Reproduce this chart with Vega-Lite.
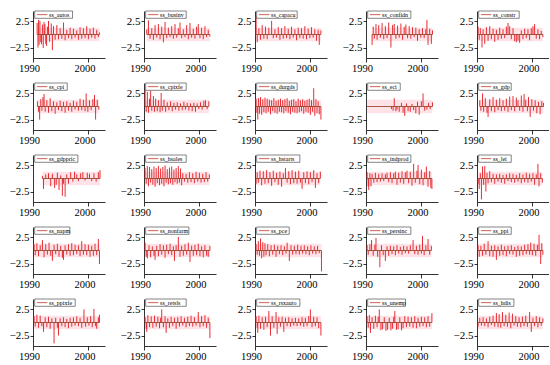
{
"$schema": "https://vega.github.io/schema/vega-lite/v6.json",
"config": {"view": {"stroke": null},
  "header": {"labels": false, "title": null, "labelFontSize": 0, "labelPadding": 0, "titlePadding": 0, "labelLimit": 1},
  "axis": {"labelFont": "Liberation Serif, DejaVu Serif, serif", "labelColor": "#000", "domainColor": "#000", "tickColor": "#000", "grid": false, "labelOverlap": false, "labelSeparation": -20, "labelFlush": false, "title": null}},
"padding": {"left": 9, "top": 10, "right": 0, "bottom": 0},
"background": "white",
"facet": {"field": "s", "type": "nominal", "title": null,
  "header": {"labels": false, "title": null, "labelFontSize": 0, "labelPadding": 0},
  "sort": ["ss_autos","ss_businv","ss_capacu","ss_confidn","ss_constr","ss_cpi","ss_cpixfe","ss_durgds","ss_eci","ss_gdp","ss_gdppric","ss_hsales","ss_hstarts","ss_indprod","ss_lei","ss_napm","ss_nonfarm","ss_pce","ss_persinc","ss_ppi","ss_ppixfe","ss_retsls","ss_rsxauto","ss_unemp","ss_hdis"]},
"columns": 5,
"spacing": {"column": 15, "row": 8},
"resolve": {"axis": {"x": "independent", "y": "independent"}},
"spec": {
  "width": 72,
  "height": 47,
  "layer": [
    {
      "transform": [
        {"aggregate": [{"op": "min", "field": "t", "as": "t0"}, {"op": "max", "field": "t", "as": "t1"}], "groupby": ["s"]},
        {"calculate": "-1.3", "as": "blo"},
        {"calculate": "1.3", "as": "bhi"}
      ],
      "mark": {"type": "rect", "color": "#fde3e7"},
      "encoding": {
        "x": {"field": "t0", "type": "quantitative", "title": null,
          "scale": {"domain": [1990, 2003], "nice": false, "zero": false},
          "axis": {"values": [1990, 1995, 2000], "format": "d",
            "labelFont": "Liberation Serif, DejaVu Serif, serif",
            "domainWidth": 0.8, "tickWidth": 0.8, "tickSize": 4,
            "labelFontSize": 10.5, "labelPadding": 1, "labelOverlap": false, "labelSeparation": -20, "labelBound": false, "labelOffset": -4, "title": null}},
        "x2": {"field": "t1"},
        "y": {"field": "blo", "type": "quantitative", "title": null,
          "scale": {"domain": [-4.5, 4.5], "nice": false, "zero": false},
          "axis": {"values": [-2.5, 2.5], "format": ".1f",
            "labelFont": "Liberation Serif, DejaVu Serif, serif",
            "domainWidth": 0.8, "tickWidth": 0.8, "tickSize": 3,
            "labelFontSize": 11, "labelPadding": 1, "title": null}},
        "y2": {"field": "bhi"}
      }
    },
    {
      "transform": [{"calculate": "0", "as": "zero"}],
      "mark": {"type": "rule", "color": "#e4161e", "strokeWidth": 0.9},
      "encoding": {
        "x": {"field": "t", "type": "quantitative", "title": null},
        "y": {"field": "v", "type": "quantitative", "title": null},
        "y2": {"field": "zero"}
      }
    },
    {
      "transform": [
        {"aggregate": [{"op": "min", "field": "t", "as": "t0"}, {"op": "max", "field": "t", "as": "t1"}], "groupby": ["s"]},
        {"calculate": "0", "as": "zero"}
      ],
      "mark": {"type": "rule", "color": "#8e3a16", "strokeWidth": 0.8},
      "encoding": {
        "x": {"field": "t0", "type": "quantitative", "title": null},
        "x2": {"field": "t1"},
        "y": {"field": "zero", "type": "quantitative", "title": null}
      }
    },
    {
      "transform": [
        {"aggregate": [{"op": "count", "as": "n"}], "groupby": ["s"]},
        {"calculate": "1990.3", "as": "lx0"},
        {"calculate": "1993.3 + length(datum.s) * 0.48", "as": "lx1"},
        {"calculate": "1990.7", "as": "sx0"},
        {"calculate": "1992.6", "as": "sx1"},
        {"calculate": "1992.9", "as": "tx"},
        {"calculate": "4.5", "as": "ly0"},
        {"calculate": "3.1", "as": "ly1"},
        {"calculate": "3.8", "as": "ty"}
      ],
      "layer": [
        {"mark": {"type": "rect", "fill": "white", "stroke": "#333", "strokeWidth": 0.6},
         "encoding": {"x": {"field": "lx0", "type": "quantitative", "title": null}, "x2": {"field": "lx1"},
           "y": {"field": "ly0", "type": "quantitative", "title": null}, "y2": {"field": "ly1"}}},
        {"mark": {"type": "rule", "color": "#c0392b", "strokeWidth": 0.8},
         "encoding": {"x": {"field": "sx0", "type": "quantitative", "title": null}, "x2": {"field": "sx1"},
           "y": {"field": "ty", "type": "quantitative", "title": null}}},
        {"mark": {"type": "text", "font": "Liberation Serif, DejaVu Serif, serif", "fontSize": 6, "align": "left", "baseline": "middle", "color": "#000"},
         "encoding": {"x": {"field": "tx", "type": "quantitative", "title": null}, "y": {"field": "ty", "type": "quantitative", "title": null},
           "text": {"field": "s", "type": "nominal"}}}
      ]
    }
  ]
},
"data": {"values": [
{"s":"ss_autos","t":1990.75,"v":2.2},{"s":"ss_autos","t":1990.9,"v":-2.5},{"s":"ss_autos","t":1991.0,"v":2.8},{"s":"ss_autos","t":1991.1,"v":-2.0},{"s":"ss_autos","t":1991.25,"v":2.6},{"s":"ss_autos","t":1991.4,"v":-1.5},{"s":"ss_autos","t":1991.55,"v":-1.9},{"s":"ss_autos","t":1991.7,"v":1.9},{"s":"ss_autos","t":1991.85,"v":-2.6},{"s":"ss_autos","t":1992.0,"v":2.4},{"s":"ss_autos","t":1992.15,"v":2.0},{"s":"ss_autos","t":1992.3,"v":-1.8},{"s":"ss_autos","t":1992.45,"v":-2.2},{"s":"ss_autos","t":1992.6,"v":1.5},{"s":"ss_autos","t":1992.8,"v":2.6},{"s":"ss_autos","t":1993.0,"v":-1.4},{"s":"ss_autos","t":1993.3,"v":2.1},{"s":"ss_autos","t":1993.5,"v":-3.0},{"s":"ss_autos","t":1993.7,"v":1.6},{"s":"ss_autos","t":1994.0,"v":-1.0},{"s":"ss_autos","t":1994.3,"v":1.8},{"s":"ss_autos","t":1994.6,"v":-0.9},{"s":"ss_autos","t":1994.9,"v":1.2},{"s":"ss_autos","t":1995.2,"v":-0.8},{"s":"ss_autos","t":1995.5,"v":2.3},{"s":"ss_autos","t":1995.8,"v":-1.1},{"s":"ss_autos","t":1996.1,"v":0.9},{"s":"ss_autos","t":1996.4,"v":-0.7},{"s":"ss_autos","t":1996.7,"v":1.3},{"s":"ss_autos","t":1997.0,"v":-0.9},{"s":"ss_autos","t":1997.3,"v":1.1},{"s":"ss_autos","t":1997.6,"v":-0.6},{"s":"ss_autos","t":1997.9,"v":0.8},{"s":"ss_autos","t":1998.2,"v":-1.0},{"s":"ss_autos","t":1998.5,"v":1.4},{"s":"ss_autos","t":1998.8,"v":-0.8},{"s":"ss_autos","t":1999.1,"v":1.2},{"s":"ss_autos","t":1999.4,"v":-0.7},{"s":"ss_autos","t":1999.7,"v":1.6},{"s":"ss_autos","t":2000.0,"v":-0.9},{"s":"ss_autos","t":2000.3,"v":1.1},{"s":"ss_autos","t":2000.6,"v":-0.6},{"s":"ss_autos","t":2000.9,"v":1.3},{"s":"ss_autos","t":2001.2,"v":-0.8},{"s":"ss_autos","t":2001.5,"v":0.9},{"s":"ss_autos","t":2001.8,"v":-0.5},{"s":"ss_autos","t":2002.0,"v":0.4},
{"s":"ss_businv","t":1990.5,"v":1.0},{"s":"ss_businv","t":1990.8,"v":2.7},{"s":"ss_businv","t":1991.1,"v":-0.8},{"s":"ss_businv","t":1991.4,"v":1.2},{"s":"ss_businv","t":1991.7,"v":-1.0},{"s":"ss_businv","t":1992.0,"v":1.8},{"s":"ss_businv","t":1992.3,"v":-0.6},{"s":"ss_businv","t":1992.6,"v":2.0},{"s":"ss_businv","t":1992.9,"v":-0.9},{"s":"ss_businv","t":1993.2,"v":1.5},{"s":"ss_businv","t":1993.5,"v":-1.5},{"s":"ss_businv","t":1993.8,"v":2.4},{"s":"ss_businv","t":1994.1,"v":-0.7},{"s":"ss_businv","t":1994.4,"v":1.3},{"s":"ss_businv","t":1994.7,"v":-0.5},{"s":"ss_businv","t":1995.0,"v":1.6},{"s":"ss_businv","t":1995.3,"v":-0.8},{"s":"ss_businv","t":1995.6,"v":2.0},{"s":"ss_businv","t":1995.9,"v":-0.6},{"s":"ss_businv","t":1996.2,"v":1.2},{"s":"ss_businv","t":1996.5,"v":2.3},{"s":"ss_businv","t":1996.8,"v":-0.7},{"s":"ss_businv","t":1997.1,"v":1.0},{"s":"ss_businv","t":1997.4,"v":-0.5},{"s":"ss_businv","t":1997.7,"v":1.8},{"s":"ss_businv","t":1998.0,"v":-0.9},{"s":"ss_businv","t":1998.3,"v":2.2},{"s":"ss_businv","t":1998.6,"v":-0.6},{"s":"ss_businv","t":1998.9,"v":1.1},{"s":"ss_businv","t":1999.2,"v":-0.8},{"s":"ss_businv","t":1999.5,"v":1.5},{"s":"ss_businv","t":1999.8,"v":2.0},{"s":"ss_businv","t":2000.1,"v":-0.7},{"s":"ss_businv","t":2000.4,"v":1.3},{"s":"ss_businv","t":2000.7,"v":-0.9},{"s":"ss_businv","t":2001.0,"v":1.6},{"s":"ss_businv","t":2001.3,"v":-0.5},{"s":"ss_businv","t":2001.6,"v":0.9},{"s":"ss_businv","t":2001.9,"v":-0.4},
{"s":"ss_capacu","t":1990.2,"v":3.5},{"s":"ss_capacu","t":1990.4,"v":-1.5},{"s":"ss_capacu","t":1990.7,"v":1.2},{"s":"ss_capacu","t":1991.0,"v":-1.0},{"s":"ss_capacu","t":1991.3,"v":1.8},{"s":"ss_capacu","t":1991.6,"v":-0.8},{"s":"ss_capacu","t":1991.9,"v":1.5},{"s":"ss_capacu","t":1992.2,"v":-0.9},{"s":"ss_capacu","t":1992.5,"v":1.3},{"s":"ss_capacu","t":1993.0,"v":2.6},{"s":"ss_capacu","t":1993.3,"v":-0.7},{"s":"ss_capacu","t":1993.6,"v":1.0},{"s":"ss_capacu","t":1993.9,"v":-0.6},{"s":"ss_capacu","t":1994.2,"v":1.4},{"s":"ss_capacu","t":1994.5,"v":-1.0},{"s":"ss_capacu","t":1994.8,"v":1.2},{"s":"ss_capacu","t":1995.1,"v":-0.8},{"s":"ss_capacu","t":1995.4,"v":1.6},{"s":"ss_capacu","t":1995.7,"v":-0.7},{"s":"ss_capacu","t":1996.0,"v":1.1},{"s":"ss_capacu","t":1996.3,"v":-0.9},{"s":"ss_capacu","t":1996.6,"v":1.5},{"s":"ss_capacu","t":1996.9,"v":-0.6},{"s":"ss_capacu","t":1997.2,"v":1.0},{"s":"ss_capacu","t":1997.5,"v":-1.1},{"s":"ss_capacu","t":1997.8,"v":1.3},{"s":"ss_capacu","t":1998.1,"v":-0.7},{"s":"ss_capacu","t":1998.4,"v":1.2},{"s":"ss_capacu","t":1998.7,"v":-0.8},{"s":"ss_capacu","t":1999.0,"v":1.6},{"s":"ss_capacu","t":1999.3,"v":-0.9},{"s":"ss_capacu","t":1999.6,"v":1.1},{"s":"ss_capacu","t":1999.9,"v":-0.7},{"s":"ss_capacu","t":2000.2,"v":1.4},{"s":"ss_capacu","t":2000.5,"v":-0.6},{"s":"ss_capacu","t":2000.8,"v":1.0},{"s":"ss_capacu","t":2001.1,"v":-1.2},{"s":"ss_capacu","t":2001.4,"v":0.9},{"s":"ss_capacu","t":2001.6,"v":-2.0},{"s":"ss_capacu","t":2001.9,"v":0.8},
{"s":"ss_confidn","t":1991.1,"v":-2.0},{"s":"ss_confidn","t":1991.3,"v":1.5},{"s":"ss_confidn","t":1991.5,"v":-0.8},{"s":"ss_confidn","t":1991.8,"v":2.0},{"s":"ss_confidn","t":1992.0,"v":-1.0},{"s":"ss_confidn","t":1992.3,"v":1.8},{"s":"ss_confidn","t":1992.6,"v":-0.6},{"s":"ss_confidn","t":1992.9,"v":2.2},{"s":"ss_confidn","t":1993.2,"v":-0.9},{"s":"ss_confidn","t":1993.5,"v":1.6},{"s":"ss_confidn","t":1993.8,"v":-0.7},{"s":"ss_confidn","t":1994.1,"v":2.3},{"s":"ss_confidn","t":1994.5,"v":-2.5},{"s":"ss_confidn","t":1994.8,"v":1.8},{"s":"ss_confidn","t":1995.1,"v":2.0},{"s":"ss_confidn","t":1995.4,"v":-0.8},{"s":"ss_confidn","t":1995.7,"v":1.7},{"s":"ss_confidn","t":1996.0,"v":-0.6},{"s":"ss_confidn","t":1996.3,"v":2.1},{"s":"ss_confidn","t":1996.6,"v":-1.0},{"s":"ss_confidn","t":1996.9,"v":1.5},{"s":"ss_confidn","t":1997.2,"v":1.9},{"s":"ss_confidn","t":1997.5,"v":-0.7},{"s":"ss_confidn","t":1997.8,"v":1.6},{"s":"ss_confidn","t":1998.1,"v":-0.8},{"s":"ss_confidn","t":1998.4,"v":1.4},{"s":"ss_confidn","t":1998.7,"v":-0.5},{"s":"ss_confidn","t":1999.0,"v":1.3},{"s":"ss_confidn","t":1999.3,"v":-1.2},{"s":"ss_confidn","t":1999.6,"v":1.0},{"s":"ss_confidn","t":1999.9,"v":-0.6},{"s":"ss_confidn","t":2000.2,"v":1.2},{"s":"ss_confidn","t":2000.5,"v":-0.7},{"s":"ss_confidn","t":2000.8,"v":1.0},{"s":"ss_confidn","t":2001.0,"v":2.8},{"s":"ss_confidn","t":2001.2,"v":-2.0},{"s":"ss_confidn","t":2001.5,"v":1.1},{"s":"ss_confidn","t":2001.8,"v":-1.8},{"s":"ss_confidn","t":2002.0,"v":0.8},
{"s":"ss_constr","t":1990.2,"v":1.5},{"s":"ss_constr","t":1990.4,"v":-1.0},{"s":"ss_constr","t":1990.6,"v":1.2},{"s":"ss_constr","t":1990.9,"v":-2.5},{"s":"ss_constr","t":1991.1,"v":1.0},{"s":"ss_constr","t":1991.4,"v":-1.8},{"s":"ss_constr","t":1991.7,"v":1.4},{"s":"ss_constr","t":1992.0,"v":-1.2},{"s":"ss_constr","t":1992.3,"v":1.6},{"s":"ss_constr","t":1992.6,"v":-0.9},{"s":"ss_constr","t":1992.9,"v":1.1},{"s":"ss_constr","t":1993.2,"v":-1.4},{"s":"ss_constr","t":1993.5,"v":0.9},{"s":"ss_constr","t":1993.8,"v":-1.0},{"s":"ss_constr","t":1994.1,"v":1.3},{"s":"ss_constr","t":1994.4,"v":-0.8},{"s":"ss_constr","t":1994.7,"v":1.0},{"s":"ss_constr","t":1995.0,"v":-0.7},{"s":"ss_constr","t":1995.3,"v":1.5},{"s":"ss_constr","t":1995.6,"v":2.2},{"s":"ss_constr","t":1995.9,"v":1.6},{"s":"ss_constr","t":1996.2,"v":-0.9},{"s":"ss_constr","t":1996.5,"v":1.2},{"s":"ss_constr","t":1996.8,"v":-1.3},{"s":"ss_constr","t":1997.1,"v":-1.5},{"s":"ss_constr","t":1997.4,"v":-1.2},{"s":"ss_constr","t":1997.7,"v":-1.6},{"s":"ss_constr","t":1998.0,"v":0.8},{"s":"ss_constr","t":1998.3,"v":-0.9},{"s":"ss_constr","t":1998.6,"v":1.1},{"s":"ss_constr","t":1998.9,"v":-0.7},{"s":"ss_constr","t":1999.2,"v":1.0},{"s":"ss_constr","t":1999.5,"v":-1.1},{"s":"ss_constr","t":1999.8,"v":1.2},{"s":"ss_constr","t":2000.1,"v":1.6},{"s":"ss_constr","t":2000.4,"v":2.0},{"s":"ss_constr","t":2000.7,"v":-0.8},{"s":"ss_constr","t":2001.0,"v":1.0},{"s":"ss_constr","t":2001.3,"v":-0.9},{"s":"ss_constr","t":2001.6,"v":0.7},{"s":"ss_constr","t":2001.9,"v":-0.5},
{"s":"ss_cpi","t":1990.8,"v":1.0},{"s":"ss_cpi","t":1991.0,"v":-1.0},{"s":"ss_cpi","t":1991.2,"v":-2.5},{"s":"ss_cpi","t":1991.4,"v":1.4},{"s":"ss_cpi","t":1991.6,"v":-0.8},{"s":"ss_cpi","t":1991.8,"v":1.8},{"s":"ss_cpi","t":1992.0,"v":2.4},{"s":"ss_cpi","t":1992.2,"v":-1.0},{"s":"ss_cpi","t":1992.5,"v":1.2},{"s":"ss_cpi","t":1992.8,"v":-1.2},{"s":"ss_cpi","t":1993.1,"v":1.6},{"s":"ss_cpi","t":1993.4,"v":-0.9},{"s":"ss_cpi","t":1993.7,"v":1.0},{"s":"ss_cpi","t":1994.0,"v":-1.4},{"s":"ss_cpi","t":1994.3,"v":0.8},{"s":"ss_cpi","t":1994.6,"v":-0.7},{"s":"ss_cpi","t":1994.9,"v":1.1},{"s":"ss_cpi","t":1995.2,"v":-0.9},{"s":"ss_cpi","t":1995.5,"v":0.9},{"s":"ss_cpi","t":1995.8,"v":-1.2},{"s":"ss_cpi","t":1996.1,"v":1.0},{"s":"ss_cpi","t":1996.4,"v":-0.8},{"s":"ss_cpi","t":1996.7,"v":0.7},{"s":"ss_cpi","t":1997.0,"v":-1.0},{"s":"ss_cpi","t":1997.3,"v":1.1},{"s":"ss_cpi","t":1997.6,"v":-0.6},{"s":"ss_cpi","t":1997.9,"v":0.9},{"s":"ss_cpi","t":1998.2,"v":-0.8},{"s":"ss_cpi","t":1998.5,"v":1.5},{"s":"ss_cpi","t":1998.8,"v":-0.7},{"s":"ss_cpi","t":1999.1,"v":1.3},{"s":"ss_cpi","t":1999.4,"v":-0.9},{"s":"ss_cpi","t":1999.6,"v":2.5},{"s":"ss_cpi","t":1999.9,"v":-1.0},{"s":"ss_cpi","t":2000.2,"v":1.2},{"s":"ss_cpi","t":2000.5,"v":-0.7},{"s":"ss_cpi","t":2000.8,"v":1.4},{"s":"ss_cpi","t":2001.1,"v":2.2},{"s":"ss_cpi","t":2001.3,"v":-2.5},{"s":"ss_cpi","t":2001.6,"v":1.3},{"s":"ss_cpi","t":2001.9,"v":-0.6},
{"s":"ss_cpixfe","t":1990.2,"v":3.2},{"s":"ss_cpixfe","t":1990.4,"v":-1.0},{"s":"ss_cpixfe","t":1990.6,"v":2.8},{"s":"ss_cpixfe","t":1990.8,"v":-1.2},{"s":"ss_cpixfe","t":1991.0,"v":1.5},{"s":"ss_cpixfe","t":1991.2,"v":3.0},{"s":"ss_cpixfe","t":1991.4,"v":-0.8},{"s":"ss_cpixfe","t":1991.7,"v":2.0},{"s":"ss_cpixfe","t":1991.9,"v":-1.0},{"s":"ss_cpixfe","t":1992.1,"v":1.5},{"s":"ss_cpixfe","t":1992.4,"v":-0.9},{"s":"ss_cpixfe","t":1992.6,"v":1.2},{"s":"ss_cpixfe","t":1992.9,"v":-1.1},{"s":"ss_cpixfe","t":1993.1,"v":2.6},{"s":"ss_cpixfe","t":1993.3,"v":-0.8},{"s":"ss_cpixfe","t":1993.6,"v":1.3},{"s":"ss_cpixfe","t":1993.9,"v":-1.0},{"s":"ss_cpixfe","t":1994.2,"v":0.8},{"s":"ss_cpixfe","t":1994.5,"v":-0.7},{"s":"ss_cpixfe","t":1994.8,"v":1.0},{"s":"ss_cpixfe","t":1995.1,"v":-0.9},{"s":"ss_cpixfe","t":1995.4,"v":0.7},{"s":"ss_cpixfe","t":1995.7,"v":-0.6},{"s":"ss_cpixfe","t":1996.0,"v":0.8},{"s":"ss_cpixfe","t":1996.3,"v":-0.8},{"s":"ss_cpixfe","t":1996.6,"v":0.6},{"s":"ss_cpixfe","t":1996.9,"v":-0.7},{"s":"ss_cpixfe","t":1997.2,"v":0.9},{"s":"ss_cpixfe","t":1997.5,"v":-0.6},{"s":"ss_cpixfe","t":1997.8,"v":0.7},{"s":"ss_cpixfe","t":1998.1,"v":-0.8},{"s":"ss_cpixfe","t":1998.4,"v":0.6},{"s":"ss_cpixfe","t":1998.7,"v":-0.9},{"s":"ss_cpixfe","t":1999.0,"v":0.7},{"s":"ss_cpixfe","t":1999.3,"v":-1.0},{"s":"ss_cpixfe","t":1999.6,"v":0.6},{"s":"ss_cpixfe","t":1999.9,"v":-0.5},{"s":"ss_cpixfe","t":2000.2,"v":0.8},{"s":"ss_cpixfe","t":2000.5,"v":-0.6},{"s":"ss_cpixfe","t":2000.8,"v":1.1},{"s":"ss_cpixfe","t":2001.1,"v":1.2},{"s":"ss_cpixfe","t":2001.4,"v":-0.5},{"s":"ss_cpixfe","t":2001.7,"v":1.0},
{"s":"ss_durgds","t":1990.2,"v":1.5},{"s":"ss_durgds","t":1990.35,"v":-1.2},{"s":"ss_durgds","t":1990.5,"v":-2.5},{"s":"ss_durgds","t":1990.65,"v":1.6},{"s":"ss_durgds","t":1990.8,"v":-1.4},{"s":"ss_durgds","t":1991.0,"v":1.8},{"s":"ss_durgds","t":1991.2,"v":-1.6},{"s":"ss_durgds","t":1991.4,"v":1.4},{"s":"ss_durgds","t":1991.6,"v":-1.1},{"s":"ss_durgds","t":1991.8,"v":1.7},{"s":"ss_durgds","t":1992.0,"v":-1.3},{"s":"ss_durgds","t":1992.2,"v":1.5},{"s":"ss_durgds","t":1992.4,"v":-1.0},{"s":"ss_durgds","t":1992.6,"v":1.3},{"s":"ss_durgds","t":1992.8,"v":-1.5},{"s":"ss_durgds","t":1993.0,"v":1.2},{"s":"ss_durgds","t":1993.2,"v":-0.9},{"s":"ss_durgds","t":1993.4,"v":1.6},{"s":"ss_durgds","t":1993.6,"v":-1.2},{"s":"ss_durgds","t":1993.8,"v":1.1},{"s":"ss_durgds","t":1994.0,"v":-1.4},{"s":"ss_durgds","t":1994.2,"v":1.3},{"s":"ss_durgds","t":1994.4,"v":-1.0},{"s":"ss_durgds","t":1994.6,"v":1.5},{"s":"ss_durgds","t":1994.8,"v":-1.1},{"s":"ss_durgds","t":1995.0,"v":1.2},{"s":"ss_durgds","t":1995.2,"v":-1.3},{"s":"ss_durgds","t":1995.4,"v":1.4},{"s":"ss_durgds","t":1995.6,"v":-0.9},{"s":"ss_durgds","t":1995.8,"v":1.6},{"s":"ss_durgds","t":1996.0,"v":-1.2},{"s":"ss_durgds","t":1996.2,"v":1.1},{"s":"ss_durgds","t":1996.4,"v":-1.5},{"s":"ss_durgds","t":1996.6,"v":1.3},{"s":"ss_durgds","t":1996.8,"v":-1.0},{"s":"ss_durgds","t":1997.0,"v":1.4},{"s":"ss_durgds","t":1997.2,"v":-1.2},{"s":"ss_durgds","t":1997.4,"v":1.0},{"s":"ss_durgds","t":1997.6,"v":-1.3},{"s":"ss_durgds","t":1997.8,"v":1.5},{"s":"ss_durgds","t":1998.0,"v":-1.1},{"s":"ss_durgds","t":1998.2,"v":1.2},{"s":"ss_durgds","t":1998.4,"v":-0.9},{"s":"ss_durgds","t":1998.6,"v":1.4},{"s":"ss_durgds","t":1998.8,"v":-1.4},{"s":"ss_durgds","t":1999.0,"v":1.1},{"s":"ss_durgds","t":1999.2,"v":-1.0},{"s":"ss_durgds","t":1999.4,"v":1.3},{"s":"ss_durgds","t":1999.6,"v":-1.2},{"s":"ss_durgds","t":1999.8,"v":1.5},{"s":"ss_durgds","t":2000.0,"v":-1.6},{"s":"ss_durgds","t":2000.2,"v":1.2},{"s":"ss_durgds","t":2000.4,"v":-1.0},{"s":"ss_durgds","t":2000.6,"v":3.5},{"s":"ss_durgds","t":2000.8,"v":-1.8},{"s":"ss_durgds","t":2001.0,"v":1.4},{"s":"ss_durgds","t":2001.2,"v":-1.3},{"s":"ss_durgds","t":2001.4,"v":1.0},{"s":"ss_durgds","t":2001.6,"v":-1.5},{"s":"ss_durgds","t":2001.9,"v":-2.5},
{"s":"ss_eci","t":1990.2,"v":0},{"s":"ss_eci","t":1994.6,"v":-0.5},{"s":"ss_eci","t":1994.9,"v":-0.8},{"s":"ss_eci","t":1995.1,"v":1.6},{"s":"ss_eci","t":1995.4,"v":-0.9},{"s":"ss_eci","t":1995.6,"v":-0.6},{"s":"ss_eci","t":1996.0,"v":-1.0},{"s":"ss_eci","t":1996.4,"v":0.7},{"s":"ss_eci","t":1996.7,"v":-1.2},{"s":"ss_eci","t":1997.0,"v":-1.8},{"s":"ss_eci","t":1997.3,"v":0.6},{"s":"ss_eci","t":1997.6,"v":-0.9},{"s":"ss_eci","t":1998.0,"v":-1.0},{"s":"ss_eci","t":1998.3,"v":0.5},{"s":"ss_eci","t":1998.6,"v":-0.7},{"s":"ss_eci","t":1999.0,"v":-1.3},{"s":"ss_eci","t":1999.3,"v":0.9},{"s":"ss_eci","t":1999.6,"v":-1.6},{"s":"ss_eci","t":2000.0,"v":1.0},{"s":"ss_eci","t":2000.3,"v":2.5},{"s":"ss_eci","t":2000.6,"v":-0.8},{"s":"ss_eci","t":2001.0,"v":-0.6},{"s":"ss_eci","t":2001.3,"v":0.7},{"s":"ss_eci","t":2001.6,"v":-0.5},{"s":"ss_eci","t":2002.0,"v":0.8},
{"s":"ss_gdp","t":1990.5,"v":1.2},{"s":"ss_gdp","t":1990.7,"v":-0.8},{"s":"ss_gdp","t":1991.0,"v":2.5},{"s":"ss_gdp","t":1991.2,"v":-1.0},{"s":"ss_gdp","t":1991.5,"v":1.6},{"s":"ss_gdp","t":1991.8,"v":-1.2},{"s":"ss_gdp","t":1992.0,"v":-2.0},{"s":"ss_gdp","t":1992.3,"v":1.4},{"s":"ss_gdp","t":1992.6,"v":-0.9},{"s":"ss_gdp","t":1992.9,"v":1.8},{"s":"ss_gdp","t":1993.2,"v":-1.1},{"s":"ss_gdp","t":1993.5,"v":1.3},{"s":"ss_gdp","t":1993.8,"v":-0.7},{"s":"ss_gdp","t":1994.1,"v":1.6},{"s":"ss_gdp","t":1994.4,"v":-0.9},{"s":"ss_gdp","t":1994.7,"v":1.2},{"s":"ss_gdp","t":1995.0,"v":-0.8},{"s":"ss_gdp","t":1995.3,"v":1.5},{"s":"ss_gdp","t":1995.6,"v":-1.0},{"s":"ss_gdp","t":1995.9,"v":1.9},{"s":"ss_gdp","t":1996.2,"v":-0.7},{"s":"ss_gdp","t":1996.5,"v":2.0},{"s":"ss_gdp","t":1996.8,"v":-0.9},{"s":"ss_gdp","t":1997.1,"v":1.7},{"s":"ss_gdp","t":1997.4,"v":1.2},{"s":"ss_gdp","t":1997.7,"v":-0.8},{"s":"ss_gdp","t":1998.0,"v":2.1},{"s":"ss_gdp","t":1998.3,"v":-1.0},{"s":"ss_gdp","t":1998.5,"v":2.4},{"s":"ss_gdp","t":1998.8,"v":1.3},{"s":"ss_gdp","t":1999.1,"v":-0.9},{"s":"ss_gdp","t":1999.3,"v":1.8},{"s":"ss_gdp","t":1999.6,"v":-2.0},{"s":"ss_gdp","t":1999.9,"v":1.4},{"s":"ss_gdp","t":2000.2,"v":-0.8},{"s":"ss_gdp","t":2000.5,"v":1.2},{"s":"ss_gdp","t":2000.8,"v":-1.3},{"s":"ss_gdp","t":2001.1,"v":0.9},{"s":"ss_gdp","t":2001.4,"v":-1.5},{"s":"ss_gdp","t":2001.7,"v":1.0},{"s":"ss_gdp","t":2002.0,"v":0.7},
{"s":"ss_gdppric","t":1991.7,"v":0.5},{"s":"ss_gdppric","t":1991.9,"v":-2.0},{"s":"ss_gdppric","t":1992.3,"v":0.8},{"s":"ss_gdppric","t":1992.8,"v":1.0},{"s":"ss_gdppric","t":1993.2,"v":-1.5},{"s":"ss_gdppric","t":1993.5,"v":0.9},{"s":"ss_gdppric","t":1993.9,"v":-1.8},{"s":"ss_gdppric","t":1994.2,"v":-1.2},{"s":"ss_gdppric","t":1994.4,"v":1.1},{"s":"ss_gdppric","t":1994.7,"v":-2.2},{"s":"ss_gdppric","t":1995.0,"v":0.6},{"s":"ss_gdppric","t":1995.3,"v":-3.3},{"s":"ss_gdppric","t":1995.5,"v":-1.0},{"s":"ss_gdppric","t":1995.8,"v":-3.5},{"s":"ss_gdppric","t":1996.1,"v":0.8},{"s":"ss_gdppric","t":1996.4,"v":-1.0},{"s":"ss_gdppric","t":1996.8,"v":1.2},{"s":"ss_gdppric","t":1997.2,"v":-0.6},{"s":"ss_gdppric","t":1997.5,"v":1.3},{"s":"ss_gdppric","t":1997.9,"v":0.8},{"s":"ss_gdppric","t":1998.2,"v":-0.5},{"s":"ss_gdppric","t":1998.6,"v":1.0},{"s":"ss_gdppric","t":1999.0,"v":1.2},{"s":"ss_gdppric","t":1999.4,"v":-0.4},{"s":"ss_gdppric","t":1999.8,"v":1.1},{"s":"ss_gdppric","t":2000.2,"v":0.9},{"s":"ss_gdppric","t":2000.6,"v":-0.5},{"s":"ss_gdppric","t":2001.0,"v":1.0},{"s":"ss_gdppric","t":2001.4,"v":-0.6},{"s":"ss_gdppric","t":2001.8,"v":1.2},{"s":"ss_gdppric","t":2002.1,"v":1.6},
{"s":"ss_hsales","t":1990.2,"v":2.0},{"s":"ss_hsales","t":1990.4,"v":-1.0},{"s":"ss_hsales","t":1990.6,"v":2.4},{"s":"ss_hsales","t":1990.8,"v":-1.5},{"s":"ss_hsales","t":1991.0,"v":2.2},{"s":"ss_hsales","t":1991.2,"v":-0.8},{"s":"ss_hsales","t":1991.4,"v":1.8},{"s":"ss_hsales","t":1991.6,"v":-1.2},{"s":"ss_hsales","t":1991.8,"v":2.3},{"s":"ss_hsales","t":1992.0,"v":-1.6},{"s":"ss_hsales","t":1992.2,"v":2.0},{"s":"ss_hsales","t":1992.4,"v":-0.9},{"s":"ss_hsales","t":1992.6,"v":2.4},{"s":"ss_hsales","t":1992.8,"v":-1.3},{"s":"ss_hsales","t":1993.0,"v":1.9},{"s":"ss_hsales","t":1993.2,"v":-1.0},{"s":"ss_hsales","t":1993.4,"v":2.2},{"s":"ss_hsales","t":1993.6,"v":-1.5},{"s":"ss_hsales","t":1993.8,"v":2.5},{"s":"ss_hsales","t":1994.0,"v":-0.8},{"s":"ss_hsales","t":1994.2,"v":1.8},{"s":"ss_hsales","t":1994.4,"v":-1.1},{"s":"ss_hsales","t":1994.6,"v":2.1},{"s":"ss_hsales","t":1994.8,"v":-0.9},{"s":"ss_hsales","t":1995.0,"v":2.3},{"s":"ss_hsales","t":1995.2,"v":-1.2},{"s":"ss_hsales","t":1995.4,"v":1.7},{"s":"ss_hsales","t":1995.6,"v":-0.7},{"s":"ss_hsales","t":1995.8,"v":2.0},{"s":"ss_hsales","t":1996.0,"v":-1.0},{"s":"ss_hsales","t":1996.2,"v":2.4},{"s":"ss_hsales","t":1996.4,"v":-0.8},{"s":"ss_hsales","t":1996.6,"v":1.9},{"s":"ss_hsales","t":1996.8,"v":-1.3},{"s":"ss_hsales","t":1997.0,"v":1.0},{"s":"ss_hsales","t":1997.3,"v":-0.6},{"s":"ss_hsales","t":1997.6,"v":0.9},{"s":"ss_hsales","t":1997.9,"v":-0.8},{"s":"ss_hsales","t":1998.2,"v":1.2},{"s":"ss_hsales","t":1998.5,"v":-0.7},{"s":"ss_hsales","t":1998.8,"v":1.0},{"s":"ss_hsales","t":1999.1,"v":-0.9},{"s":"ss_hsales","t":1999.4,"v":1.3},{"s":"ss_hsales","t":1999.7,"v":-0.6},{"s":"ss_hsales","t":2000.0,"v":1.1},{"s":"ss_hsales","t":2000.3,"v":-0.8},{"s":"ss_hsales","t":2000.6,"v":0.9},{"s":"ss_hsales","t":2000.9,"v":-0.7},{"s":"ss_hsales","t":2001.2,"v":1.2},{"s":"ss_hsales","t":2001.5,"v":-0.6},{"s":"ss_hsales","t":2001.8,"v":0.8},
{"s":"ss_hstarts","t":1990.2,"v":-1.0},{"s":"ss_hstarts","t":1990.4,"v":1.2},{"s":"ss_hstarts","t":1990.6,"v":-0.8},{"s":"ss_hstarts","t":1990.9,"v":1.5},{"s":"ss_hstarts","t":1991.2,"v":-1.3},{"s":"ss_hstarts","t":1991.5,"v":1.4},{"s":"ss_hstarts","t":1991.8,"v":-1.0},{"s":"ss_hstarts","t":1992.1,"v":1.6},{"s":"ss_hstarts","t":1992.4,"v":-0.9},{"s":"ss_hstarts","t":1992.7,"v":1.2},{"s":"ss_hstarts","t":1993.0,"v":-1.4},{"s":"ss_hstarts","t":1993.3,"v":1.5},{"s":"ss_hstarts","t":1993.6,"v":-0.7},{"s":"ss_hstarts","t":1993.9,"v":1.1},{"s":"ss_hstarts","t":1994.2,"v":-1.2},{"s":"ss_hstarts","t":1994.5,"v":1.3},{"s":"ss_hstarts","t":1994.8,"v":-1.6},{"s":"ss_hstarts","t":1995.1,"v":1.0},{"s":"ss_hstarts","t":1995.5,"v":2.0},{"s":"ss_hstarts","t":1995.8,"v":-0.8},{"s":"ss_hstarts","t":1996.1,"v":1.4},{"s":"ss_hstarts","t":1996.4,"v":-1.1},{"s":"ss_hstarts","t":1996.7,"v":1.6},{"s":"ss_hstarts","t":1997.0,"v":-0.9},{"s":"ss_hstarts","t":1997.3,"v":1.3},{"s":"ss_hstarts","t":1997.6,"v":-1.0},{"s":"ss_hstarts","t":1997.9,"v":1.5},{"s":"ss_hstarts","t":1998.2,"v":-0.8},{"s":"ss_hstarts","t":1998.5,"v":-2.0},{"s":"ss_hstarts","t":1998.8,"v":1.2},{"s":"ss_hstarts","t":1999.1,"v":-0.9},{"s":"ss_hstarts","t":1999.4,"v":1.4},{"s":"ss_hstarts","t":1999.7,"v":-1.1},{"s":"ss_hstarts","t":2000.0,"v":1.2},{"s":"ss_hstarts","t":2000.3,"v":-0.7},{"s":"ss_hstarts","t":2000.6,"v":1.6},{"s":"ss_hstarts","t":2000.9,"v":-1.8},{"s":"ss_hstarts","t":2001.2,"v":1.0},{"s":"ss_hstarts","t":2001.5,"v":-0.9},{"s":"ss_hstarts","t":2001.8,"v":1.3},
{"s":"ss_indprod","t":1990.2,"v":1.2},{"s":"ss_indprod","t":1990.4,"v":-1.5},{"s":"ss_indprod","t":1990.5,"v":-2.2},{"s":"ss_indprod","t":1990.7,"v":1.0},{"s":"ss_indprod","t":1990.9,"v":-1.5},{"s":"ss_indprod","t":1991.1,"v":0.9},{"s":"ss_indprod","t":1991.4,"v":-0.8},{"s":"ss_indprod","t":1991.7,"v":1.1},{"s":"ss_indprod","t":1992.0,"v":-0.7},{"s":"ss_indprod","t":1992.3,"v":0.9},{"s":"ss_indprod","t":1992.6,"v":-0.6},{"s":"ss_indprod","t":1992.9,"v":1.0},{"s":"ss_indprod","t":1993.2,"v":-0.5},{"s":"ss_indprod","t":1993.5,"v":0.8},{"s":"ss_indprod","t":1993.8,"v":1.1},{"s":"ss_indprod","t":1994.1,"v":-0.7},{"s":"ss_indprod","t":1994.4,"v":1.2},{"s":"ss_indprod","t":1994.7,"v":-0.9},{"s":"ss_indprod","t":1995.0,"v":1.0},{"s":"ss_indprod","t":1995.3,"v":1.3},{"s":"ss_indprod","t":1995.6,"v":-1.2},{"s":"ss_indprod","t":1995.9,"v":1.1},{"s":"ss_indprod","t":1996.2,"v":-0.8},{"s":"ss_indprod","t":1996.5,"v":1.4},{"s":"ss_indprod","t":1996.8,"v":-1.0},{"s":"ss_indprod","t":1997.1,"v":1.2},{"s":"ss_indprod","t":1997.4,"v":1.5},{"s":"ss_indprod","t":1997.7,"v":-0.9},{"s":"ss_indprod","t":1998.0,"v":1.3},{"s":"ss_indprod","t":1998.3,"v":-1.4},{"s":"ss_indprod","t":1998.6,"v":2.8},{"s":"ss_indprod","t":1998.9,"v":-0.8},{"s":"ss_indprod","t":1999.2,"v":1.5},{"s":"ss_indprod","t":1999.4,"v":2.6},{"s":"ss_indprod","t":1999.7,"v":-1.1},{"s":"ss_indprod","t":2000.0,"v":1.7},{"s":"ss_indprod","t":2000.3,"v":-1.3},{"s":"ss_indprod","t":2000.6,"v":1.2},{"s":"ss_indprod","t":2000.9,"v":2.3},{"s":"ss_indprod","t":2001.2,"v":-1.6},{"s":"ss_indprod","t":2001.5,"v":1.4},{"s":"ss_indprod","t":2001.7,"v":-1.8},{"s":"ss_indprod","t":2001.9,"v":-2.0},
{"s":"ss_lei","t":1990.2,"v":-1.0},{"s":"ss_lei","t":1990.4,"v":-2.0},{"s":"ss_lei","t":1990.6,"v":1.0},{"s":"ss_lei","t":1990.8,"v":-4.0},{"s":"ss_lei","t":1991.0,"v":2.3},{"s":"ss_lei","t":1991.2,"v":-1.2},{"s":"ss_lei","t":1991.4,"v":2.4},{"s":"ss_lei","t":1991.6,"v":-2.5},{"s":"ss_lei","t":1991.8,"v":1.1},{"s":"ss_lei","t":1992.0,"v":-0.9},{"s":"ss_lei","t":1992.3,"v":1.4},{"s":"ss_lei","t":1992.6,"v":-0.7},{"s":"ss_lei","t":1992.9,"v":0.9},{"s":"ss_lei","t":1993.2,"v":-1.0},{"s":"ss_lei","t":1993.5,"v":0.8},{"s":"ss_lei","t":1993.8,"v":-0.6},{"s":"ss_lei","t":1994.1,"v":0.9},{"s":"ss_lei","t":1994.4,"v":-0.8},{"s":"ss_lei","t":1994.7,"v":0.7},{"s":"ss_lei","t":1995.0,"v":-1.0},{"s":"ss_lei","t":1995.3,"v":0.8},{"s":"ss_lei","t":1995.6,"v":-0.5},{"s":"ss_lei","t":1995.9,"v":1.0},{"s":"ss_lei","t":1996.2,"v":-0.7},{"s":"ss_lei","t":1996.5,"v":0.9},{"s":"ss_lei","t":1996.8,"v":-0.8},{"s":"ss_lei","t":1997.1,"v":0.7},{"s":"ss_lei","t":1997.4,"v":-0.6},{"s":"ss_lei","t":1997.7,"v":1.0},{"s":"ss_lei","t":1998.0,"v":-0.9},{"s":"ss_lei","t":1998.3,"v":0.8},{"s":"ss_lei","t":1998.6,"v":-0.7},{"s":"ss_lei","t":1998.9,"v":1.1},{"s":"ss_lei","t":1999.2,"v":-0.8},{"s":"ss_lei","t":1999.5,"v":0.9},{"s":"ss_lei","t":1999.8,"v":-0.6},{"s":"ss_lei","t":2000.1,"v":1.0},{"s":"ss_lei","t":2000.4,"v":-1.2},{"s":"ss_lei","t":2000.7,"v":0.8},{"s":"ss_lei","t":2001.0,"v":2.8},{"s":"ss_lei","t":2001.2,"v":-1.5},{"s":"ss_lei","t":2001.5,"v":1.0},{"s":"ss_lei","t":2001.8,"v":-0.8},
{"s":"ss_napm","t":1990.2,"v":1.2},{"s":"ss_napm","t":1990.4,"v":-0.9},{"s":"ss_napm","t":1990.7,"v":1.4},{"s":"ss_napm","t":1991.0,"v":-1.1},{"s":"ss_napm","t":1991.3,"v":1.0},{"s":"ss_napm","t":1991.7,"v":2.0},{"s":"ss_napm","t":1992.0,"v":-1.3},{"s":"ss_napm","t":1992.3,"v":1.2},{"s":"ss_napm","t":1992.6,"v":-0.8},{"s":"ss_napm","t":1992.9,"v":1.5},{"s":"ss_napm","t":1993.2,"v":-1.0},{"s":"ss_napm","t":1993.5,"v":-2.0},{"s":"ss_napm","t":1993.8,"v":1.1},{"s":"ss_napm","t":1994.1,"v":-0.7},{"s":"ss_napm","t":1994.4,"v":1.3},{"s":"ss_napm","t":1994.7,"v":-1.2},{"s":"ss_napm","t":1995.0,"v":0.9},{"s":"ss_napm","t":1995.3,"v":-1.4},{"s":"ss_napm","t":1995.5,"v":-1.8},{"s":"ss_napm","t":1995.8,"v":1.0},{"s":"ss_napm","t":1996.1,"v":-0.8},{"s":"ss_napm","t":1996.4,"v":1.2},{"s":"ss_napm","t":1996.7,"v":-1.0},{"s":"ss_napm","t":1997.0,"v":1.4},{"s":"ss_napm","t":1997.3,"v":-0.9},{"s":"ss_napm","t":1997.6,"v":1.1},{"s":"ss_napm","t":1997.9,"v":-0.7},{"s":"ss_napm","t":1998.2,"v":1.0},{"s":"ss_napm","t":1998.5,"v":-1.1},{"s":"ss_napm","t":1998.8,"v":1.8},{"s":"ss_napm","t":1999.1,"v":-0.8},{"s":"ss_napm","t":1999.4,"v":1.2},{"s":"ss_napm","t":1999.7,"v":-0.9},{"s":"ss_napm","t":2000.0,"v":1.1},{"s":"ss_napm","t":2000.3,"v":-1.2},{"s":"ss_napm","t":2000.6,"v":0.9},{"s":"ss_napm","t":2000.9,"v":-1.0},{"s":"ss_napm","t":2001.2,"v":1.3},{"s":"ss_napm","t":2001.5,"v":-0.9},{"s":"ss_napm","t":2001.8,"v":2.2},{"s":"ss_napm","t":2002.0,"v":-2.6},
{"s":"ss_nonfarm","t":1990.2,"v":1.5},{"s":"ss_nonfarm","t":1990.4,"v":-1.2},{"s":"ss_nonfarm","t":1990.6,"v":-1.5},{"s":"ss_nonfarm","t":1990.9,"v":1.0},{"s":"ss_nonfarm","t":1991.2,"v":-1.3},{"s":"ss_nonfarm","t":1991.5,"v":0.8},{"s":"ss_nonfarm","t":1991.8,"v":-1.0},{"s":"ss_nonfarm","t":1992.0,"v":-1.8},{"s":"ss_nonfarm","t":1992.3,"v":0.9},{"s":"ss_nonfarm","t":1992.6,"v":-1.1},{"s":"ss_nonfarm","t":1992.9,"v":1.2},{"s":"ss_nonfarm","t":1993.2,"v":-0.8},{"s":"ss_nonfarm","t":1993.5,"v":1.0},{"s":"ss_nonfarm","t":1993.8,"v":-1.4},{"s":"ss_nonfarm","t":1994.1,"v":1.1},{"s":"ss_nonfarm","t":1994.4,"v":-0.7},{"s":"ss_nonfarm","t":1994.7,"v":1.3},{"s":"ss_nonfarm","t":1995.0,"v":-0.9},{"s":"ss_nonfarm","t":1995.3,"v":0.8},{"s":"ss_nonfarm","t":1995.5,"v":-2.0},{"s":"ss_nonfarm","t":1995.8,"v":1.0},{"s":"ss_nonfarm","t":1996.2,"v":2.6},{"s":"ss_nonfarm","t":1996.5,"v":-1.2},{"s":"ss_nonfarm","t":1996.8,"v":0.9},{"s":"ss_nonfarm","t":1997.1,"v":-1.0},{"s":"ss_nonfarm","t":1997.4,"v":1.2},{"s":"ss_nonfarm","t":1997.7,"v":-0.8},{"s":"ss_nonfarm","t":1998.0,"v":1.5},{"s":"ss_nonfarm","t":1998.3,"v":-2.2},{"s":"ss_nonfarm","t":1998.6,"v":0.9},{"s":"ss_nonfarm","t":1998.9,"v":-1.0},{"s":"ss_nonfarm","t":1999.2,"v":1.1},{"s":"ss_nonfarm","t":1999.5,"v":-0.9},{"s":"ss_nonfarm","t":1999.8,"v":1.3},{"s":"ss_nonfarm","t":2000.1,"v":-1.1},{"s":"ss_nonfarm","t":2000.4,"v":0.8},{"s":"ss_nonfarm","t":2000.7,"v":-1.3},{"s":"ss_nonfarm","t":2001.0,"v":1.0},{"s":"ss_nonfarm","t":2001.3,"v":-1.0},{"s":"ss_nonfarm","t":2001.6,"v":-1.2},{"s":"ss_nonfarm","t":2001.9,"v":0.9},
{"s":"ss_pce","t":1990.2,"v":1.2},{"s":"ss_pce","t":1990.4,"v":-0.8},{"s":"ss_pce","t":1990.6,"v":1.8},{"s":"ss_pce","t":1990.8,"v":-1.0},{"s":"ss_pce","t":1991.0,"v":2.3},{"s":"ss_pce","t":1991.2,"v":-1.5},{"s":"ss_pce","t":1991.4,"v":1.6},{"s":"ss_pce","t":1991.6,"v":-1.2},{"s":"ss_pce","t":1991.8,"v":1.4},{"s":"ss_pce","t":1992.0,"v":-0.9},{"s":"ss_pce","t":1992.3,"v":1.2},{"s":"ss_pce","t":1992.6,"v":-1.1},{"s":"ss_pce","t":1992.9,"v":1.0},{"s":"ss_pce","t":1993.2,"v":-0.8},{"s":"ss_pce","t":1993.5,"v":1.1},{"s":"ss_pce","t":1993.8,"v":-1.2},{"s":"ss_pce","t":1994.1,"v":0.9},{"s":"ss_pce","t":1994.4,"v":-0.7},{"s":"ss_pce","t":1994.7,"v":1.0},{"s":"ss_pce","t":1995.0,"v":-0.9},{"s":"ss_pce","t":1995.3,"v":0.8},{"s":"ss_pce","t":1995.6,"v":-0.6},{"s":"ss_pce","t":1995.8,"v":1.5},{"s":"ss_pce","t":1996.2,"v":-2.0},{"s":"ss_pce","t":1996.5,"v":1.0},{"s":"ss_pce","t":1996.8,"v":-0.8},{"s":"ss_pce","t":1997.1,"v":0.9},{"s":"ss_pce","t":1997.4,"v":-0.7},{"s":"ss_pce","t":1997.7,"v":1.1},{"s":"ss_pce","t":1998.0,"v":-0.8},{"s":"ss_pce","t":1998.3,"v":0.9},{"s":"ss_pce","t":1998.6,"v":-0.6},{"s":"ss_pce","t":1998.9,"v":1.0},{"s":"ss_pce","t":1999.2,"v":-0.7},{"s":"ss_pce","t":1999.5,"v":0.8},{"s":"ss_pce","t":1999.8,"v":-0.9},{"s":"ss_pce","t":2000.1,"v":1.0},{"s":"ss_pce","t":2000.4,"v":-0.6},{"s":"ss_pce","t":2000.7,"v":0.8},{"s":"ss_pce","t":2001.0,"v":-0.7},{"s":"ss_pce","t":2001.3,"v":0.9},{"s":"ss_pce","t":2001.6,"v":-0.5},{"s":"ss_pce","t":2002.0,"v":-4.0},
{"s":"ss_persinc","t":1990.2,"v":1.0},{"s":"ss_persinc","t":1990.4,"v":-0.8},{"s":"ss_persinc","t":1990.7,"v":1.2},{"s":"ss_persinc","t":1991.0,"v":2.0},{"s":"ss_persinc","t":1991.3,"v":-1.0},{"s":"ss_persinc","t":1991.6,"v":1.1},{"s":"ss_persinc","t":1991.8,"v":2.4},{"s":"ss_persinc","t":1992.1,"v":-1.2},{"s":"ss_persinc","t":1992.5,"v":-3.2},{"s":"ss_persinc","t":1992.8,"v":1.0},{"s":"ss_persinc","t":1993.1,"v":-0.9},{"s":"ss_persinc","t":1993.5,"v":-2.0},{"s":"ss_persinc","t":1993.8,"v":0.8},{"s":"ss_persinc","t":1994.1,"v":-1.0},{"s":"ss_persinc","t":1994.4,"v":0.9},{"s":"ss_persinc","t":1994.7,"v":-0.7},{"s":"ss_persinc","t":1995.0,"v":0.8},{"s":"ss_persinc","t":1995.3,"v":-0.9},{"s":"ss_persinc","t":1995.6,"v":1.0},{"s":"ss_persinc","t":1995.9,"v":-0.6},{"s":"ss_persinc","t":1996.2,"v":0.7},{"s":"ss_persinc","t":1996.5,"v":-0.8},{"s":"ss_persinc","t":1996.8,"v":0.9},{"s":"ss_persinc","t":1997.1,"v":-0.5},{"s":"ss_persinc","t":1997.4,"v":0.8},{"s":"ss_persinc","t":1997.7,"v":-0.6},{"s":"ss_persinc","t":1998.0,"v":1.0},{"s":"ss_persinc","t":1998.5,"v":2.0},{"s":"ss_persinc","t":1998.8,"v":-0.7},{"s":"ss_persinc","t":1999.1,"v":0.9},{"s":"ss_persinc","t":1999.4,"v":-0.8},{"s":"ss_persinc","t":1999.7,"v":1.1},{"s":"ss_persinc","t":2000.0,"v":-0.6},{"s":"ss_persinc","t":2000.2,"v":2.8},{"s":"ss_persinc","t":2000.5,"v":-0.9},{"s":"ss_persinc","t":2000.8,"v":1.0},{"s":"ss_persinc","t":2001.2,"v":2.2},{"s":"ss_persinc","t":2001.5,"v":-0.8},{"s":"ss_persinc","t":2001.8,"v":0.9},
{"s":"ss_ppi","t":1990.2,"v":1.0},{"s":"ss_ppi","t":1990.4,"v":-1.2},{"s":"ss_ppi","t":1990.7,"v":0.9},{"s":"ss_ppi","t":1991.0,"v":-1.0},{"s":"ss_ppi","t":1991.3,"v":1.3},{"s":"ss_ppi","t":1991.6,"v":-0.8},{"s":"ss_ppi","t":1992.0,"v":1.8},{"s":"ss_ppi","t":1992.3,"v":-1.1},{"s":"ss_ppi","t":1992.6,"v":0.9},{"s":"ss_ppi","t":1992.9,"v":-1.2},{"s":"ss_ppi","t":1993.2,"v":1.0},{"s":"ss_ppi","t":1993.5,"v":-1.8},{"s":"ss_ppi","t":1993.8,"v":0.8},{"s":"ss_ppi","t":1994.1,"v":-1.0},{"s":"ss_ppi","t":1994.4,"v":1.1},{"s":"ss_ppi","t":1994.7,"v":-0.9},{"s":"ss_ppi","t":1995.0,"v":0.8},{"s":"ss_ppi","t":1995.3,"v":-1.1},{"s":"ss_ppi","t":1995.6,"v":0.9},{"s":"ss_ppi","t":1995.9,"v":-0.7},{"s":"ss_ppi","t":1996.2,"v":1.0},{"s":"ss_ppi","t":1996.5,"v":-0.8},{"s":"ss_ppi","t":1996.8,"v":0.7},{"s":"ss_ppi","t":1997.1,"v":-1.2},{"s":"ss_ppi","t":1997.4,"v":0.9},{"s":"ss_ppi","t":1997.7,"v":-1.0},{"s":"ss_ppi","t":1998.0,"v":0.8},{"s":"ss_ppi","t":1998.3,"v":-0.9},{"s":"ss_ppi","t":1998.6,"v":1.1},{"s":"ss_ppi","t":1998.9,"v":-0.7},{"s":"ss_ppi","t":1999.2,"v":1.2},{"s":"ss_ppi","t":1999.5,"v":-0.8},{"s":"ss_ppi","t":1999.7,"v":1.5},{"s":"ss_ppi","t":2000.0,"v":-0.9},{"s":"ss_ppi","t":2000.3,"v":1.3},{"s":"ss_ppi","t":2000.6,"v":-1.0},{"s":"ss_ppi","t":2000.9,"v":1.1},{"s":"ss_ppi","t":2001.2,"v":3.0},{"s":"ss_ppi","t":2001.5,"v":-2.6},{"s":"ss_ppi","t":2001.7,"v":1.4},{"s":"ss_ppi","t":2001.9,"v":-0.8},
{"s":"ss_ppixfe","t":1990.2,"v":1.2},{"s":"ss_ppixfe","t":1990.4,"v":-0.8},{"s":"ss_ppixfe","t":1990.7,"v":1.5},{"s":"ss_ppixfe","t":1991.0,"v":-1.0},{"s":"ss_ppixfe","t":1991.3,"v":1.3},{"s":"ss_ppixfe","t":1991.6,"v":-0.7},{"s":"ss_ppixfe","t":1991.9,"v":-1.8},{"s":"ss_ppixfe","t":1992.2,"v":1.0},{"s":"ss_ppixfe","t":1992.5,"v":-0.9},{"s":"ss_ppixfe","t":1992.8,"v":1.1},{"s":"ss_ppixfe","t":1993.1,"v":-1.2},{"s":"ss_ppixfe","t":1993.4,"v":0.8},{"s":"ss_ppixfe","t":1993.8,"v":-4.0},{"s":"ss_ppixfe","t":1994.1,"v":0.9},{"s":"ss_ppixfe","t":1994.4,"v":-1.0},{"s":"ss_ppixfe","t":1994.6,"v":-2.5},{"s":"ss_ppixfe","t":1994.9,"v":0.8},{"s":"ss_ppixfe","t":1995.2,"v":-0.7},{"s":"ss_ppixfe","t":1995.5,"v":1.0},{"s":"ss_ppixfe","t":1995.8,"v":-0.9},{"s":"ss_ppixfe","t":1996.1,"v":0.7},{"s":"ss_ppixfe","t":1996.4,"v":-1.1},{"s":"ss_ppixfe","t":1996.7,"v":0.9},{"s":"ss_ppixfe","t":1997.0,"v":-0.8},{"s":"ss_ppixfe","t":1997.3,"v":1.0},{"s":"ss_ppixfe","t":1997.6,"v":-0.6},{"s":"ss_ppixfe","t":1997.9,"v":1.2},{"s":"ss_ppixfe","t":1998.2,"v":-0.7},{"s":"ss_ppixfe","t":1998.5,"v":0.9},{"s":"ss_ppixfe","t":1998.8,"v":-1.0},{"s":"ss_ppixfe","t":1999.2,"v":2.5},{"s":"ss_ppixfe","t":1999.5,"v":-0.8},{"s":"ss_ppixfe","t":1999.8,"v":1.0},{"s":"ss_ppixfe","t":2000.1,"v":-0.6},{"s":"ss_ppixfe","t":2000.4,"v":1.2},{"s":"ss_ppixfe","t":2000.7,"v":-0.9},{"s":"ss_ppixfe","t":2001.0,"v":2.6},{"s":"ss_ppixfe","t":2001.3,"v":-0.7},{"s":"ss_ppixfe","t":2001.5,"v":-1.2},{"s":"ss_ppixfe","t":2001.8,"v":1.0},{"s":"ss_ppixfe","t":2002.0,"v":1.5},
{"s":"ss_retsls","t":1990.2,"v":1.0},{"s":"ss_retsls","t":1990.4,"v":-1.2},{"s":"ss_retsls","t":1990.5,"v":-1.8},{"s":"ss_retsls","t":1990.7,"v":1.4},{"s":"ss_retsls","t":1991.0,"v":-0.9},{"s":"ss_retsls","t":1991.3,"v":1.2},{"s":"ss_retsls","t":1991.6,"v":-1.0},{"s":"ss_retsls","t":1991.9,"v":1.3},{"s":"ss_retsls","t":1992.2,"v":-0.8},{"s":"ss_retsls","t":1992.5,"v":1.1},{"s":"ss_retsls","t":1992.8,"v":-1.1},{"s":"ss_retsls","t":1993.0,"v":0.9},{"s":"ss_retsls","t":1993.2,"v":2.5},{"s":"ss_retsls","t":1993.5,"v":-0.9},{"s":"ss_retsls","t":1993.8,"v":1.2},{"s":"ss_retsls","t":1994.0,"v":-2.0},{"s":"ss_retsls","t":1994.3,"v":0.8},{"s":"ss_retsls","t":1994.6,"v":-1.0},{"s":"ss_retsls","t":1994.9,"v":1.1},{"s":"ss_retsls","t":1995.2,"v":-0.7},{"s":"ss_retsls","t":1995.5,"v":0.9},{"s":"ss_retsls","t":1995.8,"v":-1.2},{"s":"ss_retsls","t":1996.1,"v":1.0},{"s":"ss_retsls","t":1996.4,"v":-0.8},{"s":"ss_retsls","t":1996.7,"v":1.2},{"s":"ss_retsls","t":1997.0,"v":-0.6},{"s":"ss_retsls","t":1997.3,"v":0.9},{"s":"ss_retsls","t":1997.6,"v":-0.9},{"s":"ss_retsls","t":1997.9,"v":1.1},{"s":"ss_retsls","t":1998.2,"v":-0.7},{"s":"ss_retsls","t":1998.5,"v":1.3},{"s":"ss_retsls","t":1998.8,"v":-0.8},{"s":"ss_retsls","t":1999.1,"v":1.0},{"s":"ss_retsls","t":1999.4,"v":-0.6},{"s":"ss_retsls","t":1999.8,"v":2.0},{"s":"ss_retsls","t":2000.1,"v":-0.9},{"s":"ss_retsls","t":2000.4,"v":1.2},{"s":"ss_retsls","t":2000.7,"v":-0.7},{"s":"ss_retsls","t":2001.0,"v":1.4},{"s":"ss_retsls","t":2001.3,"v":-1.0},{"s":"ss_retsls","t":2001.6,"v":0.9},{"s":"ss_retsls","t":2001.9,"v":-3.0},
{"s":"ss_rsxauto","t":1990.2,"v":1.2},{"s":"ss_rsxauto","t":1990.4,"v":-1.0},{"s":"ss_rsxauto","t":1990.5,"v":-2.0},{"s":"ss_rsxauto","t":1990.7,"v":1.3},{"s":"ss_rsxauto","t":1991.0,"v":-1.2},{"s":"ss_rsxauto","t":1991.3,"v":1.0},{"s":"ss_rsxauto","t":1991.6,"v":-1.4},{"s":"ss_rsxauto","t":1991.9,"v":1.1},{"s":"ss_rsxauto","t":1992.2,"v":-0.9},{"s":"ss_rsxauto","t":1992.5,"v":2.2},{"s":"ss_rsxauto","t":1992.8,"v":-2.5},{"s":"ss_rsxauto","t":1993.1,"v":1.2},{"s":"ss_rsxauto","t":1993.4,"v":-1.0},{"s":"ss_rsxauto","t":1993.8,"v":2.0},{"s":"ss_rsxauto","t":1994.0,"v":-2.2},{"s":"ss_rsxauto","t":1994.3,"v":1.0},{"s":"ss_rsxauto","t":1994.6,"v":-0.8},{"s":"ss_rsxauto","t":1994.9,"v":1.1},{"s":"ss_rsxauto","t":1995.2,"v":-1.8},{"s":"ss_rsxauto","t":1995.5,"v":0.9},{"s":"ss_rsxauto","t":1995.8,"v":-0.7},{"s":"ss_rsxauto","t":1996.1,"v":1.0},{"s":"ss_rsxauto","t":1996.4,"v":-0.8},{"s":"ss_rsxauto","t":1996.7,"v":0.8},{"s":"ss_rsxauto","t":1997.0,"v":-0.6},{"s":"ss_rsxauto","t":1997.3,"v":0.9},{"s":"ss_rsxauto","t":1997.6,"v":-0.7},{"s":"ss_rsxauto","t":1997.9,"v":0.8},{"s":"ss_rsxauto","t":1998.2,"v":-0.6},{"s":"ss_rsxauto","t":1998.5,"v":1.0},{"s":"ss_rsxauto","t":1998.8,"v":-0.8},{"s":"ss_rsxauto","t":1999.1,"v":0.9},{"s":"ss_rsxauto","t":1999.4,"v":-0.7},{"s":"ss_rsxauto","t":1999.7,"v":1.2},{"s":"ss_rsxauto","t":2000.0,"v":2.5},{"s":"ss_rsxauto","t":2000.3,"v":-0.9},{"s":"ss_rsxauto","t":2000.6,"v":1.1},{"s":"ss_rsxauto","t":2000.9,"v":-0.7},{"s":"ss_rsxauto","t":2001.2,"v":1.0},{"s":"ss_rsxauto","t":2001.5,"v":-1.1},{"s":"ss_rsxauto","t":2001.9,"v":-2.5},
{"s":"ss_unemp","t":1990.2,"v":1.2},{"s":"ss_unemp","t":1990.4,"v":-1.0},{"s":"ss_unemp","t":1990.6,"v":1.4},{"s":"ss_unemp","t":1990.8,"v":-2.0},{"s":"ss_unemp","t":1991.1,"v":1.0},{"s":"ss_unemp","t":1991.4,"v":-1.2},{"s":"ss_unemp","t":1991.7,"v":1.3},{"s":"ss_unemp","t":1992.0,"v":-0.9},{"s":"ss_unemp","t":1992.2,"v":1.1},{"s":"ss_unemp","t":1992.4,"v":2.5},{"s":"ss_unemp","t":1992.7,"v":-1.5},{"s":"ss_unemp","t":1993.0,"v":-1.3},{"s":"ss_unemp","t":1993.3,"v":1.0},{"s":"ss_unemp","t":1993.6,"v":-1.6},{"s":"ss_unemp","t":1993.9,"v":-1.4},{"s":"ss_unemp","t":1994.2,"v":0.9},{"s":"ss_unemp","t":1994.5,"v":-1.5},{"s":"ss_unemp","t":1994.8,"v":-1.2},{"s":"ss_unemp","t":1995.0,"v":1.1},{"s":"ss_unemp","t":1995.2,"v":2.2},{"s":"ss_unemp","t":1995.5,"v":-1.4},{"s":"ss_unemp","t":1995.8,"v":-1.3},{"s":"ss_unemp","t":1996.1,"v":1.0},{"s":"ss_unemp","t":1996.4,"v":-1.5},{"s":"ss_unemp","t":1996.7,"v":-1.1},{"s":"ss_unemp","t":1997.0,"v":1.2},{"s":"ss_unemp","t":1997.3,"v":-0.9},{"s":"ss_unemp","t":1997.6,"v":1.1},{"s":"ss_unemp","t":1997.9,"v":-0.8},{"s":"ss_unemp","t":1998.2,"v":1.0},{"s":"ss_unemp","t":1998.5,"v":-1.0},{"s":"ss_unemp","t":1998.8,"v":1.2},{"s":"ss_unemp","t":1999.1,"v":-1.1},{"s":"ss_unemp","t":1999.4,"v":0.9},{"s":"ss_unemp","t":1999.7,"v":-0.8},{"s":"ss_unemp","t":2000.0,"v":1.1},{"s":"ss_unemp","t":2000.3,"v":-0.7},{"s":"ss_unemp","t":2000.6,"v":1.0},{"s":"ss_unemp","t":2000.9,"v":-0.9},{"s":"ss_unemp","t":2001.2,"v":1.2},{"s":"ss_unemp","t":2001.5,"v":-0.8},{"s":"ss_unemp","t":2001.9,"v":1.8},
{"s":"ss_hdis","t":1990.2,"v":-0.8},{"s":"ss_hdis","t":1990.5,"v":0.9},{"s":"ss_hdis","t":1990.8,"v":-0.6},{"s":"ss_hdis","t":1991.1,"v":1.0},{"s":"ss_hdis","t":1991.4,"v":-0.7},{"s":"ss_hdis","t":1991.7,"v":0.8},{"s":"ss_hdis","t":1992.0,"v":-0.9},{"s":"ss_hdis","t":1992.3,"v":1.1},{"s":"ss_hdis","t":1992.6,"v":-0.5},{"s":"ss_hdis","t":1992.9,"v":1.3},{"s":"ss_hdis","t":1993.2,"v":-0.8},{"s":"ss_hdis","t":1993.5,"v":1.8},{"s":"ss_hdis","t":1993.8,"v":-0.9},{"s":"ss_hdis","t":1994.0,"v":1.6},{"s":"ss_hdis","t":1994.3,"v":-1.0},{"s":"ss_hdis","t":1994.6,"v":2.0},{"s":"ss_hdis","t":1994.9,"v":-0.7},{"s":"ss_hdis","t":1995.2,"v":1.5},{"s":"ss_hdis","t":1995.5,"v":-0.8},{"s":"ss_hdis","t":1995.8,"v":1.9},{"s":"ss_hdis","t":1996.1,"v":-1.1},{"s":"ss_hdis","t":1996.4,"v":1.7},{"s":"ss_hdis","t":1996.7,"v":-0.6},{"s":"ss_hdis","t":1997.0,"v":1.2},{"s":"ss_hdis","t":1997.3,"v":-0.8},{"s":"ss_hdis","t":1997.6,"v":1.0},{"s":"ss_hdis","t":1997.9,"v":-0.9},{"s":"ss_hdis","t":1998.2,"v":1.1},{"s":"ss_hdis","t":1998.5,"v":-0.7},{"s":"ss_hdis","t":1998.8,"v":1.3},{"s":"ss_hdis","t":1999.1,"v":-0.8},{"s":"ss_hdis","t":1999.5,"v":2.0},{"s":"ss_hdis","t":1999.8,"v":-1.8},{"s":"ss_hdis","t":2000.1,"v":0.9},{"s":"ss_hdis","t":2000.4,"v":-0.7},{"s":"ss_hdis","t":2000.7,"v":1.2},{"s":"ss_hdis","t":2001.0,"v":-0.9},{"s":"ss_hdis","t":2001.3,"v":1.0},{"s":"ss_hdis","t":2001.6,"v":-0.6},{"s":"ss_hdis","t":2001.9,"v":0.8}
]}
}
